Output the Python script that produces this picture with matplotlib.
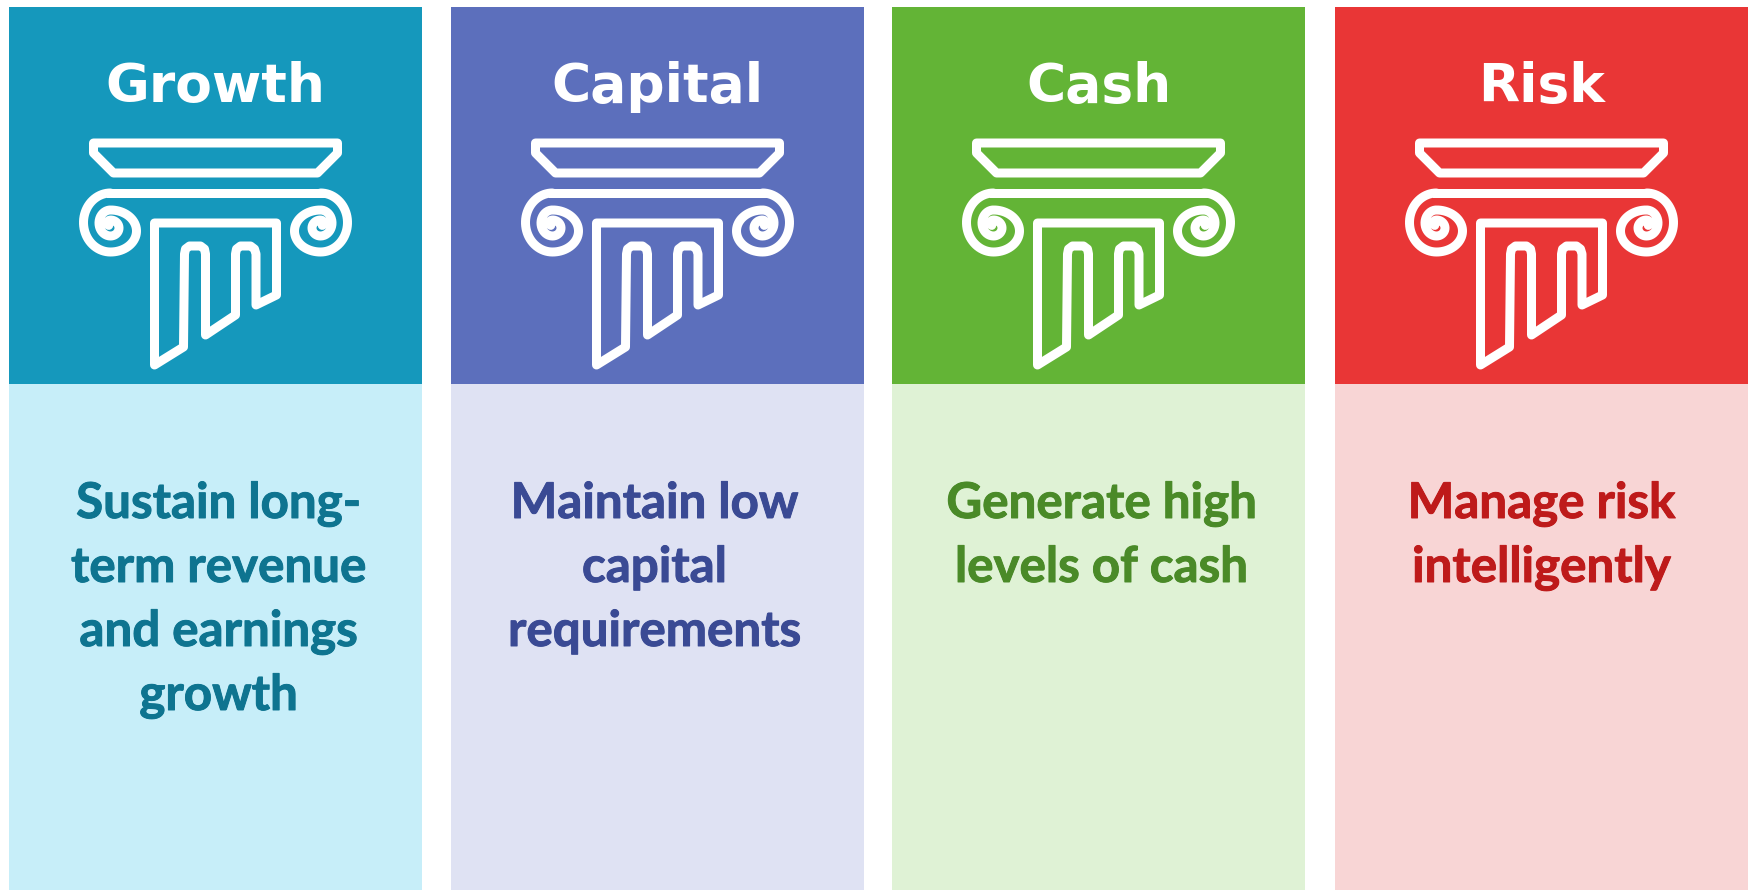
import numpy as np
import matplotlib
matplotlib.use("Agg")
import matplotlib.pyplot as plt
import matplotlib.patheffects as pe
from matplotlib.patches import Rectangle, PathPatch
from matplotlib.path import Path

titles = ["Growth", "Capital", "Cash", "Risk"]
body_lines = [
    ["Sustain long-", "term revenue", "and earnings", "growth"],
    ["Maintain low", "capital", "requirements"],
    ["Generate high", "levels of cash"],
    ["Manage risk", "intelligently"],
]
header_colors = ["#1598BC", "#5C6FBC", "#63B436", "#E93636"]
light_colors = ["#C7EEF9", "#DFE2F3", "#DFF2D5", "#F8D5D5"]
text_colors = ["#0E7490", "#3A4A94", "#4A8A28", "#BE1A1A"]
panel_left = [9, 451, 892, 1335]
text_shift = [3, -3, 3, 0]

PANEL_W = 413
TOP, SPLIT, BOTTOM = 7, 384, 890
BASELINES = [518, 582, 646, 710]

# pillar outline, x relative to the panel centre, y in pixels
abacus = [(-122, 143), (122, 143), (122, 153), (102, 173), (-102, 173), (-122, 153)]
shaft = [(-61, 223), (61, 223), (61, 295), (40.5, 305), (40.5, 254), (39, 249), (35, 246),
         (25, 246), (21, 249), (20, 254), (20, 315), (-10, 335), (-10, 254), (-11, 249),
         (-15, 246), (-26, 246), (-30, 249), (-31, 254), (-32, 347), (-61, 365)]
# scroll is half ellipses joined at this x, shrinking each time
SCROLL_X = -105
scroll_start_y = 193
scroll_rx = [27, 26, 11.5, 8.5, 3]
scroll_ry = [29.5, 21, 13, 8, 3]


def scroll_curve():
    xs, ys = [], []
    y = scroll_start_y
    side = -1   # first half goes round the left
    for k, (rx, ry) in enumerate(zip(scroll_rx, scroll_ry)):
        down = k % 2 == 0
        cy = y + ry if down else y - ry
        last = k == len(scroll_rx) - 1
        a = np.linspace(0, np.pi * (0.8 if last else 1), 40)
        xs.extend(SCROLL_X + side * rx * np.sin(a))
        ys.extend(cy - ry * np.cos(a) if down else cy + ry * np.cos(a))
        y = cy + ry if down else cy - ry
        side = -side
    return np.array(xs), np.array(ys)


def draw_pillar(ax, cx):
    lw = 9 * 72 / 100
    for pts in (abacus, shaft):
        pts = np.array(pts, dtype=float) + [cx, 0]
        ax.add_patch(PathPatch(Path(np.vstack([pts, pts[0]]), closed=True), fill=False,
                               ec="white", lw=lw, joinstyle="round"))
    sx, sy = scroll_curve()
    ax.plot(sx + cx, sy, color="white", lw=lw, solid_capstyle="round")
    ax.plot(-sx + cx, sy, color="white", lw=lw, solid_capstyle="round")
    ax.plot([cx + SCROLL_X, cx - SCROLL_X], [193, 193], color="white", lw=lw)


fig = plt.figure(figsize=(17.5, 8.9), dpi=100)
ax = fig.add_axes([0, 0, 1, 1])
ax.set_xlim(0, 1750)
ax.set_ylim(890, 0)
ax.axis("off")

for i, title in enumerate(titles):
    x0 = panel_left[i]
    cx = x0 + PANEL_W / 2
    ax.add_patch(Rectangle((x0, TOP), PANEL_W, SPLIT - TOP, fc=header_colors[i], ec="none"))
    ax.add_patch(Rectangle((x0, SPLIT), PANEL_W, BOTTOM - SPLIT, fc=light_colors[i], ec="none"))
    ax.text(cx, 102, title, color="white", ha="center", va="baseline", fontsize=38.5,
            family="DejaVu Sans", weight="bold")
    draw_pillar(ax, cx)
    for line, y in zip(body_lines[i], BASELINES):
        t = ax.text(cx + text_shift[i], y, line, color=text_colors[i], ha="center",
                    va="baseline", fontsize=35.5, family="Lato", weight="bold")
        t.set_path_effects([pe.withStroke(linewidth=0.7, foreground=text_colors[i])])

fig.savefig("out.png", dpi=100)
